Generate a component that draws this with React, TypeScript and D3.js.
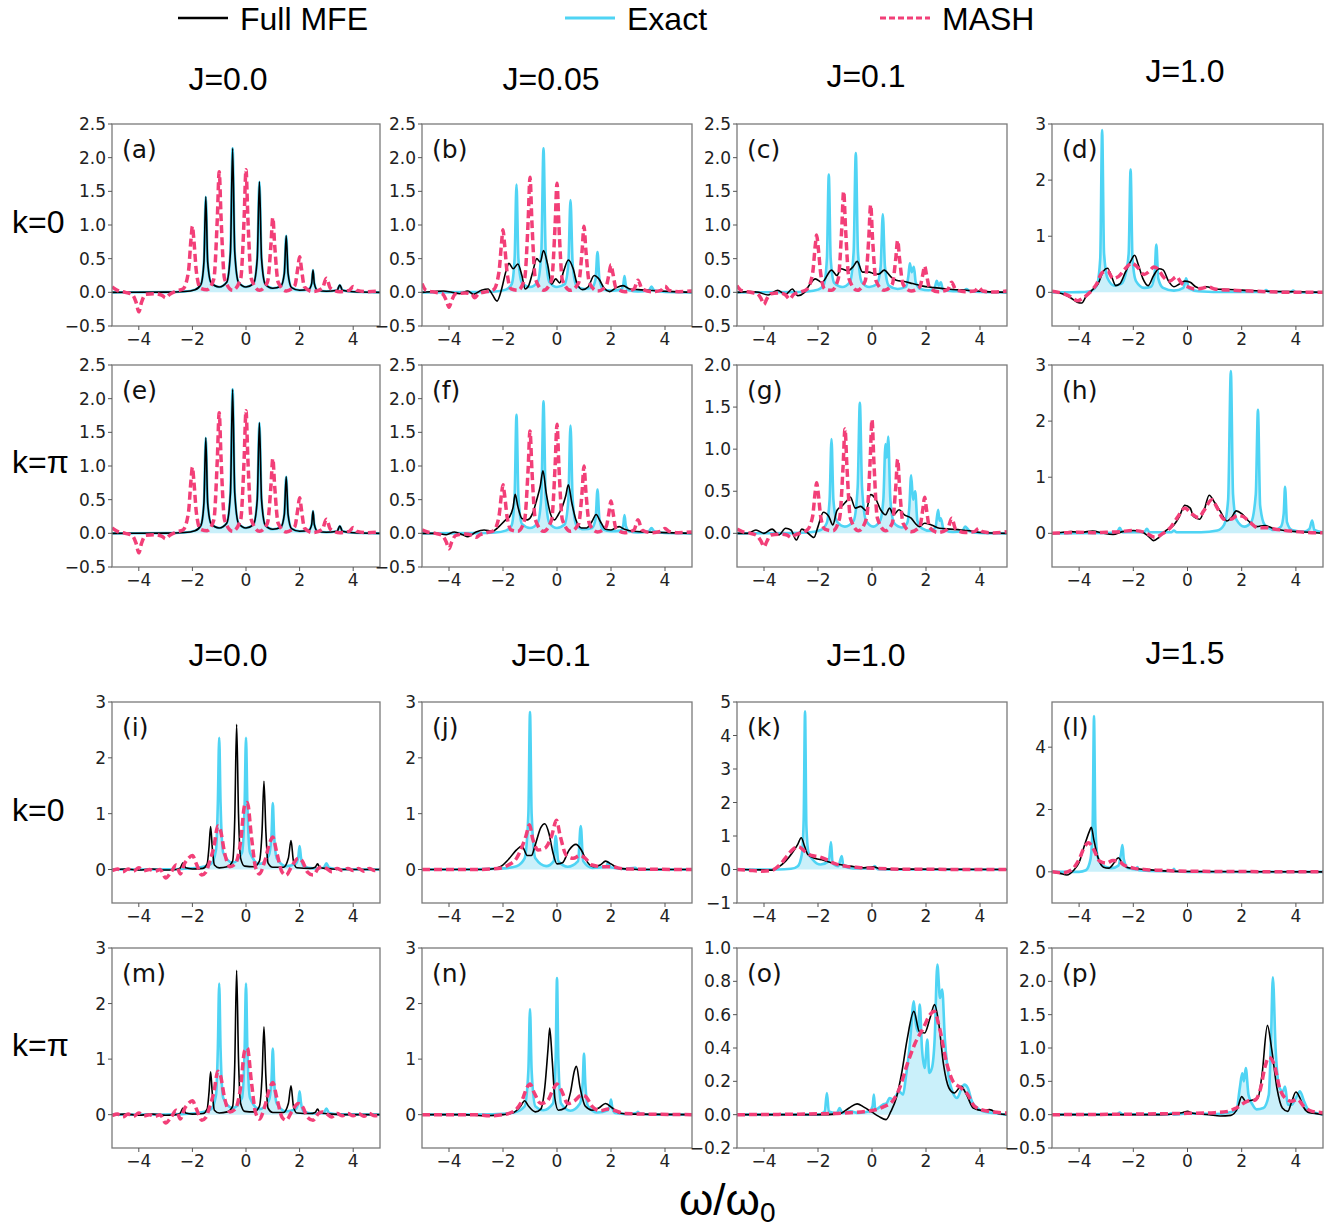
import React from 'react';
import * as d3 from 'd3';

type Pt = [number, number];

// ---------- data (ω/ω0, spectral value) ----------
const aExact: Pt[] = [[-5,0],[-3,0.003],[-2.3,0.012],[-1.9,0.04],[-1.68,0.12],[-1.57,0.45],[-1.5,1.42],[-1.43,0.45],[-1.3,0.14],[-1.0,0.08],[-0.72,0.15],[-0.58,0.6],[-0.5,2.14],[-0.42,0.6],[-0.28,0.15],[0,0.08],[0.28,0.13],[0.42,0.5],[0.5,1.64],[0.58,0.5],[0.72,0.12],[1.0,0.06],[1.3,0.09],[1.43,0.28],[1.5,0.84],[1.57,0.28],[1.7,0.07],[2.0,0.03],[2.35,0.05],[2.45,0.13],[2.5,0.33],[2.55,0.13],[2.67,0.03],[3.0,0.015],[3.4,0.03],[3.5,0.11],[3.6,0.03],[4,0.008],[5,0]];
const aMFE: Pt[] = aExact;
const aMASH: Pt[] = [[-5,0.08],[-4.8,0.03],[-4.5,0.0],[-4.25,-0.03],[-4.1,-0.15],[-4.0,-0.29],[-3.9,-0.15],[-3.75,-0.03],[-3.4,-0.02],[-3.15,-0.04],[-3.0,-0.08],[-2.85,-0.03],[-2.6,0.02],[-2.35,0.05],[-2.15,0.3],[-2.05,0.8],[-2.0,0.98],[-1.95,0.8],[-1.85,0.3],[-1.7,0.06],[-1.45,0.04],[-1.2,0.2],[-1.07,1.1],[-1.0,1.79],[-0.93,1.1],[-0.8,0.2],[-0.5,0.03],[-0.2,0.2],[-0.07,1.1],[0,1.82],[0.07,1.1],[0.2,0.2],[0.5,0.03],[0.8,0.15],[0.93,0.7],[1.0,1.11],[1.07,0.7],[1.2,0.15],[1.5,0.02],[1.82,0.1],[1.93,0.35],[2.0,0.53],[2.07,0.35],[2.18,0.08],[2.5,0.01],[2.85,0.06],[3.0,0.21],[3.15,0.06],[3.5,0.01],[3.85,0.03],[4.0,0.085],[4.15,0.03],[4.5,0.01],[5,0.02]];

const bExact: Pt[] = [[-5,0],[-3,0.003],[-2.3,0.012],[-1.9,0.04],[-1.68,0.12],[-1.57,0.5],[-1.5,1.6],[-1.43,0.5],[-1.3,0.14],[-1.0,0.08],[-0.72,0.15],[-0.58,0.6],[-0.5,2.14],[-0.42,0.6],[-0.28,0.15],[0,0.08],[0.28,0.12],[0.42,0.42],[0.5,1.37],[0.58,0.42],[0.72,0.1],[1.0,0.05],[1.3,0.07],[1.43,0.2],[1.5,0.6],[1.57,0.2],[1.7,0.05],[2.0,0.025],[2.35,0.04],[2.45,0.1],[2.5,0.24],[2.55,0.1],[2.67,0.03],[3.0,0.012],[3.4,0.03],[3.5,0.085],[3.6,0.03],[4,0.005],[5,0]];
const bMFE: Pt[] = [[-5,0],[-4.6,0.01],[-4.2,0.02],[-3.9,0.0],[-3.6,-0.02],[-3.3,0.02],[-3.1,-0.03],[-2.8,0.03],[-2.55,0.05],[-2.4,-0.03],[-2.22,-0.13],[-2.05,0.05],[-1.9,0.3],[-1.78,0.43],[-1.62,0.35],[-1.45,0.42],[-1.3,0.25],[-1.18,0.05],[-1.05,0.1],[-0.9,0.3],[-0.75,0.5],[-0.62,0.45],[-0.5,0.62],[-0.35,0.42],[-0.2,0.12],[-0.05,0.2],[0.1,0.14],[0.25,0.32],[0.42,0.48],[0.6,0.35],[0.75,0.12],[0.95,0.04],[1.15,0.08],[1.38,0.25],[1.55,0.2],[1.75,0.06],[1.95,0.01],[2.2,0.07],[2.45,0.1],[2.7,0.05],[3.0,0.04],[3.4,0.03],[3.8,0.02],[4.3,0.01],[5,0]];
const bMASH: Pt[] = [[-5,0.13],[-4.85,0.03],[-4.5,0.0],[-4.25,-0.02],[-4.1,-0.12],[-4.0,-0.22],[-3.9,-0.12],[-3.75,-0.02],[-3.4,-0.01],[-3.15,-0.03],[-3.05,-0.08],[-2.9,-0.02],[-2.6,0.01],[-2.35,0.04],[-2.15,0.3],[-2.05,0.75],[-2.0,0.93],[-1.95,0.75],[-1.85,0.3],[-1.7,0.05],[-1.45,0.03],[-1.2,0.2],[-1.07,1.05],[-1.0,1.71],[-0.93,1.05],[-0.8,0.2],[-0.5,0.03],[-0.2,0.18],[-0.07,1.0],[0,1.62],[0.07,1.0],[0.2,0.18],[0.5,0.03],[0.8,0.14],[0.93,0.62],[1.0,0.98],[1.07,0.62],[1.2,0.14],[1.5,0.02],[1.82,0.09],[1.93,0.28],[2.0,0.41],[2.07,0.28],[2.18,0.07],[2.5,0.01],[2.85,0.05],[3.0,0.18],[3.15,0.05],[3.5,0.01],[3.85,0.03],[4.0,0.09],[4.15,0.03],[4.5,0.01],[5,0.02]];

const cExact: Pt[] = [[-5,0],[-3,0.003],[-2.4,0.012],[-2.0,0.04],[-1.78,0.12],[-1.67,0.5],[-1.6,1.75],[-1.53,0.5],[-1.4,0.14],[-1.1,0.08],[-0.82,0.15],[-0.68,0.6],[-0.6,2.07],[-0.52,0.6],[-0.38,0.15],[-0.1,0.08],[0.18,0.12],[0.32,0.38],[0.4,1.16],[0.48,0.38],[0.62,0.1],[0.95,0.05],[1.25,0.08],[1.35,0.25],[1.4,0.43],[1.47,0.3],[1.55,0.38],[1.62,0.15],[1.8,0.05],[2.1,0.03],[2.32,0.07],[2.4,0.17],[2.47,0.1],[2.55,0.15],[2.62,0.05],[3.0,0.015],[3.4,0.02],[3.5,0.05],[3.6,0.02],[4,0.005],[5,0]];
const cMFE: Pt[] = [[-5,0],[-4.5,0.01],[-4.2,0.0],[-3.85,-0.04],[-3.5,0.03],[-3.2,-0.03],[-2.95,0.05],[-2.75,-0.05],[-2.5,0.0],[-2.3,0.12],[-2.1,0.2],[-1.85,0.15],[-1.5,0.33],[-1.3,0.25],[-1.15,0.35],[-0.9,0.32],[-0.7,0.38],[-0.55,0.46],[-0.35,0.3],[-0.1,0.3],[0.05,0.28],[0.25,0.27],[0.45,0.33],[0.7,0.23],[0.9,0.18],[1.2,0.16],[1.5,0.13],[1.8,0.1],[2.3,0.07],[2.8,0.05],[3.5,0.03],[4.2,0.01],[5,0]];
const cMASH: Pt[] = [[-5,0.1],[-4.85,0.03],[-4.5,0.0],[-4.25,-0.02],[-4.1,-0.1],[-4.0,-0.18],[-3.9,-0.1],[-3.75,-0.02],[-3.4,-0.01],[-3.2,-0.04],[-3.05,-0.1],[-2.9,-0.03],[-2.6,0.01],[-2.4,0.05],[-2.2,0.28],[-2.1,0.7],[-2.05,0.85],[-2.0,0.7],[-1.9,0.28],[-1.75,0.05],[-1.5,0.03],[-1.25,0.2],[-1.12,0.95],[-1.05,1.5],[-0.98,0.95],[-0.85,0.2],[-0.55,0.03],[-0.25,0.17],[-0.12,0.8],[-0.05,1.3],[0.02,0.8],[0.15,0.17],[0.45,0.03],[0.75,0.12],[0.88,0.5],[0.95,0.77],[1.02,0.5],[1.15,0.12],[1.45,0.02],[1.77,0.08],[1.88,0.26],[1.95,0.39],[2.02,0.26],[2.13,0.07],[2.45,0.01],[2.8,0.04],[2.95,0.15],[3.1,0.04],[3.45,0.01],[3.8,0.02],[3.95,0.07],[4.1,0.02],[4.5,0.005],[5,0.02]];

const dExact: Pt[] = [[-5,0],[-4,0.003],[-3.6,0.02],[-3.35,0.12],[-3.22,0.6],[-3.15,2.89],[-3.08,0.7],[-2.95,0.25],[-2.7,0.12],[-2.45,0.15],[-2.25,0.4],[-2.17,0.7],[-2.1,2.19],[-2.03,0.6],[-1.9,0.2],[-1.6,0.08],[-1.35,0.1],[-1.22,0.28],[-1.15,0.85],[-1.08,0.25],[-0.9,0.08],[-0.5,0.03],[-0.15,0.08],[-0.05,0.25],[0.05,0.07],[0.4,0.02],[1.5,0.005],[2.8,0.005],[2.9,0.04],[3.0,0.005],[3.8,0.005],[3.9,0.03],[4.0,0.0],[5,0]];
const dMFE: Pt[] = [[-5,0.02],[-4.6,-0.03],[-4.3,-0.1],[-4.05,-0.18],[-3.9,-0.19],[-3.75,-0.08],[-3.5,0.05],[-3.3,0.15],[-3.1,0.38],[-2.95,0.43],[-2.8,0.28],[-2.65,0.12],[-2.5,0.15],[-2.3,0.35],[-2.1,0.55],[-1.95,0.66],[-1.82,0.5],[-1.65,0.25],[-1.45,0.12],[-1.25,0.3],[-1.05,0.42],[-0.9,0.4],[-0.7,0.2],[-0.5,0.1],[-0.3,0.15],[-0.1,0.2],[0.1,0.18],[0.3,0.1],[0.5,0.07],[0.7,0.1],[1.0,0.06],[1.5,0.05],[2.0,0.04],[3.0,0.02],[4.0,0.01],[5,0]];
const dMASH: Pt[] = [[-5,0.02],[-4.6,-0.02],[-4.3,-0.08],[-4.05,-0.15],[-3.85,-0.1],[-3.6,0.0],[-3.35,0.15],[-3.15,0.35],[-2.95,0.38],[-2.75,0.25],[-2.55,0.28],[-2.3,0.42],[-2.05,0.52],[-1.85,0.45],[-1.6,0.32],[-1.4,0.38],[-1.25,0.45],[-1.1,0.42],[-0.9,0.28],[-0.65,0.2],[-0.4,0.28],[-0.25,0.18],[0.0,0.1],[0.3,0.06],[0.6,0.08],[0.75,0.1],[1.0,0.06],[1.5,0.04],[2.0,0.03],[3.0,0.01],[4.0,0.0],[5,0]];

const eExact: Pt[] = aExact;
const eMFE: Pt[] = aExact;
const eMASH: Pt[] = aMASH;

const fExact: Pt[] = [[-5,0],[-3,0.003],[-2.3,0.012],[-1.9,0.04],[-1.68,0.12],[-1.57,0.55],[-1.5,1.76],[-1.43,0.55],[-1.3,0.14],[-1.0,0.08],[-0.72,0.15],[-0.58,0.55],[-0.5,1.96],[-0.42,0.55],[-0.28,0.15],[0,0.08],[0.28,0.13],[0.42,0.5],[0.5,1.6],[0.58,0.5],[0.72,0.12],[1.0,0.06],[1.3,0.08],[1.43,0.22],[1.5,0.65],[1.57,0.22],[1.7,0.06],[2.0,0.03],[2.35,0.04],[2.45,0.11],[2.5,0.27],[2.55,0.11],[2.67,0.03],[3.0,0.012],[3.4,0.03],[3.5,0.08],[3.6,0.03],[4,0.005],[5,0]];
const fMFE: Pt[] = [[-5,0],[-4.5,0.0],[-4.1,-0.02],[-3.8,0.02],[-3.5,-0.02],[-3.3,-0.05],[-3.0,0.02],[-2.7,0.05],[-2.4,0.03],[-2.15,0.1],[-1.9,0.2],[-1.75,0.25],[-1.62,0.4],[-1.55,0.58],[-1.45,0.4],[-1.3,0.22],[-1.1,0.2],[-0.9,0.3],[-0.75,0.5],[-0.62,0.7],[-0.52,0.93],[-0.4,0.6],[-0.25,0.3],[-0.1,0.2],[0.05,0.28],[0.2,0.4],[0.32,0.55],[0.42,0.72],[0.55,0.45],[0.7,0.2],[0.9,0.08],[1.1,0.08],[1.3,0.18],[1.45,0.28],[1.6,0.18],[1.8,0.06],[2.0,0.05],[2.3,0.1],[2.5,0.06],[2.8,0.03],[3.3,0.02],[4.0,0.01],[5,0]];
const fMASH: Pt[] = [[-5,0.05],[-4.8,0.02],[-4.5,0.0],[-4.25,-0.03],[-4.1,-0.13],[-4.0,-0.23],[-3.9,-0.13],[-3.75,-0.03],[-3.4,-0.01],[-3.15,-0.03],[-3.0,-0.06],[-2.85,-0.02],[-2.6,0.01],[-2.35,0.04],[-2.15,0.25],[-2.05,0.6],[-2.0,0.72],[-1.95,0.6],[-1.85,0.25],[-1.7,0.05],[-1.45,0.03],[-1.2,0.2],[-1.07,0.95],[-1.0,1.52],[-0.93,0.95],[-0.8,0.2],[-0.5,0.03],[-0.2,0.2],[-0.07,1.0],[0,1.62],[0.07,1.0],[0.2,0.2],[0.5,0.03],[0.8,0.14],[0.93,0.62],[1.0,1.0],[1.07,0.62],[1.2,0.14],[1.5,0.02],[1.82,0.1],[1.93,0.32],[2.0,0.48],[2.07,0.32],[2.18,0.08],[2.5,0.01],[2.85,0.05],[3.0,0.2],[3.15,0.05],[3.5,0.01],[3.85,0.03],[4.0,0.07],[4.15,0.03],[4.5,0.01],[5,0.02]];

const gExact: Pt[] = [[-5,0],[-3,0.003],[-2.3,0.012],[-1.9,0.04],[-1.68,0.12],[-1.57,0.4],[-1.5,1.12],[-1.43,0.4],[-1.3,0.14],[-1.0,0.08],[-0.68,0.15],[-0.53,0.55],[-0.45,1.55],[-0.37,0.55],[-0.22,0.15],[0.05,0.08],[0.3,0.15],[0.42,0.4],[0.5,1.06],[0.55,0.9],[0.6,1.15],[0.68,0.4],[0.82,0.12],[1.1,0.07],[1.3,0.12],[1.38,0.3],[1.45,0.69],[1.52,0.4],[1.6,0.5],[1.68,0.15],[1.85,0.06],[2.15,0.03],[2.35,0.07],[2.45,0.28],[2.5,0.15],[2.55,0.18],[2.65,0.05],[3.0,0.015],[3.35,0.03],[3.45,0.08],[3.55,0.05],[3.65,0.02],[4,0.005],[5,0]];
const gMFE: Pt[] = [[-5,0],[-4.6,0.0],[-4.3,0.04],[-4.0,0.0],[-3.7,0.05],[-3.45,-0.02],[-3.2,0.06],[-3.0,0.04],[-2.8,-0.08],[-2.6,0.05],[-2.4,0.01],[-2.15,-0.05],[-2.0,0.08],[-1.8,0.25],[-1.6,0.2],[-1.45,0.1],[-1.3,0.27],[-1.1,0.33],[-0.95,0.38],[-0.8,0.43],[-0.62,0.3],[-0.42,0.32],[-0.22,0.27],[-0.05,0.46],[0.15,0.4],[0.32,0.28],[0.5,0.22],[0.65,0.3],[0.8,0.22],[1.0,0.28],[1.2,0.22],[1.45,0.18],[1.6,0.12],[1.75,0.08],[1.95,0.12],[2.2,0.1],[2.5,0.06],[2.9,0.05],[3.3,0.04],[3.6,0.03],[4.0,0.01],[5,0]];
const gMASH: Pt[] = [[-5,0.05],[-4.8,0.02],[-4.5,0.0],[-4.25,-0.03],[-4.1,-0.1],[-4.0,-0.16],[-3.9,-0.1],[-3.75,-0.02],[-3.4,-0.01],[-3.15,-0.02],[-3.0,-0.05],[-2.85,-0.02],[-2.6,0.01],[-2.4,0.04],[-2.2,0.2],[-2.1,0.5],[-2.05,0.6],[-2.0,0.5],[-1.9,0.2],[-1.75,0.05],[-1.45,0.03],[-1.2,0.18],[-1.07,0.8],[-1.0,1.24],[-0.93,0.8],[-0.8,0.18],[-0.5,0.03],[-0.2,0.18],[-0.07,0.85],[0,1.35],[0.07,0.85],[0.2,0.18],[0.5,0.03],[0.75,0.12],[0.88,0.55],[0.95,0.88],[1.02,0.55],[1.15,0.12],[1.45,0.02],[1.77,0.08],[1.88,0.28],[1.95,0.43],[2.02,0.28],[2.13,0.07],[2.45,0.01],[2.8,0.05],[2.95,0.18],[3.1,0.05],[3.45,0.01],[3.8,0.02],[3.95,0.06],[4.1,0.02],[4.5,0.005],[5,0.02]];

const hExact: Pt[] = [[-5,0],[-3,0.005],[-2.6,0.02],[-2.5,0.1],[-2.4,0.02],[-1.6,0.02],[-1.5,0.08],[-1.4,0.02],[-0.6,0.02],[-0.5,0.05],[-0.4,0.02],[0.5,0.02],[1.1,0.05],[1.35,0.15],[1.5,0.6],[1.6,2.89],[1.68,0.7],[1.8,0.25],[2.1,0.12],[2.35,0.2],[2.52,0.7],[2.6,2.2],[2.68,0.5],[2.85,0.15],[3.2,0.06],[3.45,0.12],[3.55,0.35],[3.6,0.83],[3.67,0.2],[3.85,0.06],[4.3,0.03],[4.5,0.08],[4.6,0.23],[4.68,0.06],[5,0.02]];
const hMFE: Pt[] = [[-5,0],[-4.6,0.02],[-4.3,0.03],[-3.9,0.02],[-3.5,0.04],[-3.1,0.0],[-2.75,-0.02],[-2.4,0.03],[-2.0,0.05],[-1.7,0.03],[-1.45,-0.05],[-1.25,-0.13],[-1.05,-0.07],[-0.8,0.05],[-0.5,0.15],[-0.3,0.3],[-0.1,0.5],[0.1,0.45],[0.22,0.3],[0.45,0.25],[0.62,0.42],[0.8,0.68],[1.0,0.55],[1.2,0.4],[1.45,0.22],[1.62,0.28],[1.8,0.4],[2.0,0.35],[2.25,0.22],[2.55,0.12],[2.85,0.14],[3.2,0.08],[3.6,0.05],[4.0,0.03],[4.5,0.02],[5,0]];
const hMASH: Pt[] = [[-5,0.0],[-4.5,0.01],[-4.0,0.02],[-3.5,0.01],[-3.0,0.02],[-2.5,0.03],[-2.0,0.05],[-1.6,0.02],[-1.2,-0.07],[-0.9,0.0],[-0.6,0.12],[-0.35,0.3],[-0.1,0.45],[0.15,0.35],[0.4,0.28],[0.6,0.4],[0.9,0.6],[1.1,0.45],[1.35,0.25],[1.6,0.25],[1.85,0.32],[2.05,0.3],[2.3,0.2],[2.6,0.1],[2.9,0.1],[3.3,0.07],[3.8,0.04],[4.3,0.02],[5,0.01]];

const iExact: Pt[] = [[-5,0],[-3,0.003],[-2.4,0.01],[-1.8,0.03],[-1.3,0.1],[-1.12,0.35],[-1.05,1.2],[-1.0,2.36],[-0.95,1.2],[-0.85,0.3],[-0.5,0.12],[-0.15,0.3],[-0.05,1.2],[0,2.36],[0.05,1.2],[0.15,0.3],[0.5,0.1],[0.85,0.25],[0.95,0.6],[1.0,1.19],[1.05,0.6],[1.15,0.2],[1.5,0.06],[1.85,0.1],[1.95,0.22],[2.0,0.42],[2.05,0.22],[2.15,0.06],[2.5,0.02],[2.9,0.03],[3.0,0.11],[3.1,0.03],[3.5,0.005],[5,0]];
const iMFE: Pt[] = [[-5,0],[-4.5,0.01],[-4.0,-0.01],[-3.5,0.01],[-3.0,-0.01],[-2.6,0.0],[-2.45,0.03],[-2.35,0.12],[-2.25,0.03],[-2.0,0.01],[-1.6,0.02],[-1.45,0.1],[-1.38,0.4],[-1.32,0.77],[-1.26,0.4],[-1.18,0.08],[-1.0,0.03],[-0.7,0.05],[-0.5,0.15],[-0.42,0.9],[-0.35,2.6],[-0.28,1.0],[-0.2,0.2],[-0.05,0.06],[0.3,0.05],[0.5,0.15],[0.6,0.7],[0.67,1.58],[0.74,0.7],[0.82,0.12],[1.0,0.04],[1.4,0.04],[1.58,0.2],[1.68,0.52],[1.77,0.15],[1.9,0.03],[2.4,0.02],[2.58,0.04],[2.67,0.1],[2.76,0.03],[3.2,0.01],[4,0.0],[5,0]];
const iMASH: Pt[] = [[-5,-0.02],[-4.8,0.01],[-4.6,-0.04],[-4.4,0.01],[-4.2,-0.03],[-4.0,0.03],[-3.8,-0.02],[-3.6,0.0],[-3.4,-0.03],[-3.2,0.0],[-3.0,-0.15],[-2.8,-0.05],[-2.6,0.08],[-2.45,-0.08],[-2.3,0.1],[-2.15,0.2],[-2.0,0.25],[-1.85,0.1],[-1.65,-0.1],[-1.5,-0.05],[-1.35,0.15],[-1.2,0.4],[-1.05,0.78],[-0.95,0.7],[-0.8,0.3],[-0.6,0.05],[-0.4,0.1],[-0.2,0.5],[-0.05,1.15],[0.05,1.2],[0.2,0.6],[0.35,0.05],[0.5,-0.08],[0.7,0.15],[0.9,0.5],[1.0,0.58],[1.15,0.3],[1.35,-0.05],[1.5,-0.1],[1.7,0.05],[1.95,0.2],[2.1,0.15],[2.3,-0.05],[2.5,-0.1],[2.7,0.02],[2.85,0.05],[3.0,0.02],[3.2,-0.04],[3.4,0.02],[3.6,-0.02],[3.8,0.02],[4.0,-0.02],[4.2,0.02],[4.4,-0.03],[4.6,0.02],[4.8,-0.02],[5,0.0]];

const jExact: Pt[] = [[-5,0],[-3,0.005],[-2,0.02],[-1.5,0.06],[-1.2,0.2],[-1.06,1.0],[-1.0,2.82],[-0.94,1.0],[-0.8,0.2],[-0.4,0.06],[-0.12,0.15],[-0.05,0.6],[0.05,0.15],[0.4,0.05],[0.78,0.15],[0.88,0.78],[0.97,0.15],[1.3,0.03],[1.82,0.05],[1.9,0.13],[1.98,0.04],[2.5,0.01],[2.9,0.03],[3.0,0.0],[5,0]];
const jMFE: Pt[] = [[-5,0],[-3,0.0],[-2.5,0.005],[-2.1,0.05],[-1.8,0.18],[-1.5,0.35],[-1.3,0.42],[-1.1,0.25],[-0.95,0.25],[-0.8,0.45],[-0.6,0.75],[-0.45,0.82],[-0.3,0.65],[-0.15,0.3],[0.0,0.1],[0.2,0.12],[0.45,0.35],[0.7,0.45],[0.9,0.35],[1.1,0.15],[1.35,0.05],[1.6,0.08],[1.8,0.15],[2.0,0.1],[2.3,0.02],[3,0.0],[5,0]];
const jMASH: Pt[] = [[-5,0],[-3,0.0],[-2.2,0.02],[-1.8,0.08],[-1.5,0.2],[-1.3,0.4],[-1.15,0.6],[-1.02,0.8],[-0.9,0.55],[-0.7,0.35],[-0.45,0.38],[-0.2,0.6],[-0.02,0.88],[0.12,0.6],[0.35,0.25],[0.6,0.2],[0.85,0.25],[1.05,0.2],[1.3,0.08],[1.7,0.05],[2.0,0.05],[2.5,0.01],[5,0]];

const kExact: Pt[] = [[-5,0],[-3.5,0.0],[-3.0,0.02],[-2.75,0.1],[-2.6,0.45],[-2.53,1.5],[-2.48,4.72],[-2.43,1.3],[-2.35,0.5],[-2.2,0.3],[-1.9,0.15],[-1.6,0.25],[-1.52,0.82],[-1.46,0.2],[-1.25,0.1],[-1.12,0.4],[-1.06,0.1],[-0.7,0.03],[0.0,0.03],[0.1,0.1],[0.2,0.01],[1,0],[5,0]];
const kMFE: Pt[] = [[-5,0],[-4,-0.01],[-3.7,-0.02],[-3.45,0.08],[-3.2,0.25],[-2.95,0.5],[-2.75,0.75],[-2.62,0.95],[-2.5,0.7],[-2.38,0.45],[-2.1,0.33],[-1.8,0.28],[-1.5,0.2],[-1.2,0.15],[-0.8,0.1],[-0.3,0.05],[0.05,0.08],[0.3,0.02],[1,0.01],[5,0]];
const kMASH: Pt[] = [[-5,0],[-4.6,-0.02],[-4.1,-0.05],[-3.7,-0.02],[-3.4,0.15],[-3.15,0.4],[-2.9,0.62],[-2.72,0.68],[-2.5,0.55],[-2.25,0.42],[-1.95,0.38],[-1.7,0.3],[-1.4,0.18],[-1.0,0.1],[-0.5,0.06],[0.0,0.04],[1,0.01],[5,0]];

const lExact: Pt[] = [[-5,0],[-4,0.0],[-3.75,0.05],[-3.58,0.4],[-3.5,1.5],[-3.45,5.0],[-3.4,1.5],[-3.32,0.5],[-3.1,0.18],[-2.8,0.12],[-2.55,0.2],[-2.45,0.6],[-2.4,0.86],[-2.35,0.4],[-2.2,0.12],[-1.9,0.08],[-1.85,0.15],[-1.8,0.05],[-1.0,0.02],[-0.55,0.03],[-0.5,0.1],[-0.45,0.02],[0,0.0],[5,0]];
const lMFE: Pt[] = [[-5,0],[-4.7,-0.05],[-4.45,-0.1],[-4.2,0.05],[-4.0,0.3],[-3.8,0.85],[-3.62,1.3],[-3.55,1.43],[-3.45,1.0],[-3.3,0.45],[-3.1,0.15],[-2.9,0.12],[-2.7,0.3],[-2.55,0.45],[-2.42,0.3],[-2.25,0.15],[-1.9,0.1],[-1.5,0.07],[-1.0,0.04],[0,0.01],[5,0]];
const lMASH: Pt[] = [[-5,0],[-4.6,-0.03],[-4.3,0.05],[-4.0,0.4],[-3.8,0.8],[-3.65,0.93],[-3.45,0.7],[-3.25,0.35],[-3.0,0.28],[-2.75,0.36],[-2.55,0.35],[-2.35,0.22],[-2.0,0.12],[-1.5,0.07],[-1.0,0.05],[0,0.02],[5,0]];

const mExact: Pt[] = iExact;
const mMFE: Pt[] = iMFE;
const mMASH: Pt[] = iMASH;

const nExact: Pt[] = [[-5,0],[-3,0.003],[-2.2,0.01],[-1.6,0.04],[-1.2,0.15],[-1.06,0.8],[-1.0,1.9],[-0.94,0.8],[-0.8,0.15],[-0.5,0.08],[-0.15,0.2],[-0.05,1.0],[0,2.46],[0.05,1.0],[0.15,0.2],[0.5,0.07],[0.85,0.2],[0.95,0.55],[1.0,1.1],[1.05,0.55],[1.15,0.15],[1.5,0.04],[1.88,0.08],[1.96,0.18],[2.0,0.27],[2.05,0.12],[2.15,0.03],[2.6,0.01],[2.95,0.03],[3.0,0.05],[3.05,0.02],[3.5,0.0],[5,0]];
const nMFE: Pt[] = [[-5,0],[-3.5,0.0],[-2.6,-0.02],[-2.0,0.0],[-1.6,0.04],[-1.35,0.15],[-1.2,0.25],[-1.05,0.15],[-0.8,0.05],[-0.6,0.1],[-0.45,0.5],[-0.33,1.2],[-0.27,1.56],[-0.18,1.0],[-0.08,0.3],[0.05,0.08],[0.3,0.12],[0.5,0.4],[0.65,0.8],[0.72,0.87],[0.85,0.5],[1.05,0.15],[1.3,0.08],[1.55,0.12],[1.8,0.2],[2.05,0.12],[2.3,0.03],[2.7,0.01],[5,0]];
const nMASH: Pt[] = [[-5,0],[-3,0.0],[-2.5,-0.02],[-2.0,0.0],[-1.6,0.06],[-1.3,0.25],[-1.1,0.5],[-1.0,0.55],[-0.85,0.4],[-0.6,0.2],[-0.35,0.25],[-0.15,0.45],[0.0,0.55],[0.15,0.45],[0.4,0.2],[0.65,0.25],[0.9,0.35],[1.05,0.33],[1.3,0.15],[1.6,0.07],[1.9,0.1],[2.1,0.08],[2.5,0.02],[5,0]];

const oExact: Pt[] = [[-5,0],[-2.0,0.0],[-1.75,0.02],[-1.67,0.13],[-1.6,0.02],[-1.3,0.01],[-1.2,0.04],[-1.1,0.01],[-0.8,0.02],[-0.5,0.01],[-0.1,0.02],[0.02,0.05],[0.07,0.12],[0.12,0.03],[0.4,0.06],[0.55,0.07],[0.65,0.1],[0.8,0.09],[1.0,0.14],[1.15,0.12],[1.25,0.22],[1.4,0.42],[1.55,0.68],[1.62,0.55],[1.7,0.5],[1.77,0.66],[1.85,0.4],[1.95,0.28],[2.05,0.45],[2.12,0.25],[2.22,0.28],[2.32,0.45],[2.42,0.9],[2.52,0.7],[2.6,0.75],[2.7,0.45],[2.85,0.22],[3.0,0.13],[3.15,0.1],[3.3,0.15],[3.42,0.18],[3.55,0.16],[3.7,0.08],[3.9,0.04],[4.1,0.02],[4.5,0.01],[5,0]];
const oMFE: Pt[] = [[-5,0],[-2,0.0],[-1.2,0.005],[-0.85,0.04],[-0.55,0.065],[-0.3,0.045],[0.0,0.015],[0.25,-0.01],[0.52,-0.03],[0.7,0.02],[0.9,0.1],[1.1,0.25],[1.3,0.45],[1.55,0.62],[1.75,0.5],[1.95,0.49],[2.15,0.58],[2.32,0.66],[2.47,0.55],[2.65,0.3],[2.85,0.16],[3.05,0.13],[3.3,0.17],[3.5,0.12],[3.75,0.04],[4.1,0.025],[4.35,0.03],[4.7,0.005],[5,0]];
const oMASH: Pt[] = [[-5,0],[-2,0.005],[-1,0.01],[0,0.025],[0.4,0.045],[0.8,0.09],[1.0,0.15],[1.3,0.3],[1.6,0.43],[1.9,0.52],[2.15,0.6],[2.3,0.62],[2.5,0.52],[2.75,0.32],[3.0,0.2],[3.3,0.16],[3.55,0.12],[3.8,0.05],[4.3,0.02],[5,0.01]];

const pExact: Pt[] = [[-5,0],[-2.6,0.005],[-2.5,0.03],[-2.4,0.005],[-0.7,0.005],[-0.6,0.02],[-0.5,0.0],[0,0.02],[1.0,0.01],[1.5,0.03],[1.8,0.06],[1.93,0.4],[2.02,0.62],[2.08,0.5],[2.15,0.7],[2.25,0.3],[2.4,0.15],[2.55,0.08],[2.8,0.1],[3.0,0.3],[3.08,1.1],[3.15,2.06],[3.25,1.0],[3.4,0.4],[3.52,0.35],[3.6,0.42],[3.7,0.15],[3.85,0.15],[4.0,0.25],[4.15,0.35],[4.3,0.2],[4.5,0.05],[4.7,0.03],[5,0]];
const pMFE: Pt[] = [[-5,0],[-1,0.0],[-0.2,0.03],[0,0.05],[0.2,0.02],[0.8,0.0],[1.2,-0.02],[1.6,-0.01],[1.85,0.1],[2.0,0.27],[2.15,0.2],[2.4,0.22],[2.6,0.25],[2.75,0.6],[2.95,1.34],[3.1,1.0],[3.3,0.4],[3.5,0.1],[3.7,0.05],[3.85,0.2],[4.0,0.34],[4.15,0.25],[4.3,0.1],[4.5,0.03],[4.7,0.02],[5,0]];
const pMASH: Pt[] = [[-5,0],[0,0.02],[1.0,0.03],[1.5,0.05],[1.8,0.1],[2.2,0.2],[2.5,0.22],[2.7,0.4],[2.85,0.7],[3.0,0.86],[3.2,0.75],[3.4,0.4],[3.6,0.25],[3.85,0.2],[4.05,0.23],[4.3,0.12],[4.6,0.05],[5,0.03]];

// ---------- labels / ticks ----------
const xTicks = [-4, -2, 0, 2, 4];
const topTitles = ['J=0.0', 'J=0.05', 'J=0.1', 'J=1.0'];
const bottomTitles = ['J=0.0', 'J=0.1', 'J=1.0', 'J=1.5'];
const rowLabels = ['k=0', 'k=π', 'k=0', 'k=π'];
const legendNames = ['Full MFE', 'Exact', 'MASH'];

const ticksHalf = [-0.5, 0, 0.5, 1, 1.5, 2, 2.5];
const ticks03 = [0, 1, 2, 3];

// ---------- layout ----------
const colX = [[112, 380], [422, 692], [737, 1007], [1052, 1323]];
const rowY = [[124, 326], [365, 567], [702, 903], [948, 1148]];

const COLORS = { mfe: '#000000', exact: '#4fd4f4', fill: '#c4eefa', mash: '#f23f78' };

interface PanelDef {
  tag: string; row: number; col: number;
  yDomain: [number, number]; yTicks: number[]; dec: number;
  exact: Pt[]; mfe: Pt[]; mash: Pt[];
}

const panels: PanelDef[] = [
  { tag: 'a', row: 0, col: 0, yDomain: [-0.5, 2.5], yTicks: ticksHalf, dec: 1, exact: aExact, mfe: aMFE, mash: aMASH },
  { tag: 'b', row: 0, col: 1, yDomain: [-0.5, 2.5], yTicks: ticksHalf, dec: 1, exact: bExact, mfe: bMFE, mash: bMASH },
  { tag: 'c', row: 0, col: 2, yDomain: [-0.5, 2.5], yTicks: ticksHalf, dec: 1, exact: cExact, mfe: cMFE, mash: cMASH },
  { tag: 'd', row: 0, col: 3, yDomain: [-0.6, 3], yTicks: ticks03, dec: 0, exact: dExact, mfe: dMFE, mash: dMASH },
  { tag: 'e', row: 1, col: 0, yDomain: [-0.5, 2.5], yTicks: ticksHalf, dec: 1, exact: eExact, mfe: eMFE, mash: eMASH },
  { tag: 'f', row: 1, col: 1, yDomain: [-0.5, 2.5], yTicks: ticksHalf, dec: 1, exact: fExact, mfe: fMFE, mash: fMASH },
  { tag: 'g', row: 1, col: 2, yDomain: [-0.4, 2.0], yTicks: [0, 0.5, 1, 1.5, 2], dec: 1, exact: gExact, mfe: gMFE, mash: gMASH },
  { tag: 'h', row: 1, col: 3, yDomain: [-0.6, 3], yTicks: ticks03, dec: 0, exact: hExact, mfe: hMFE, mash: hMASH },
  { tag: 'i', row: 2, col: 0, yDomain: [-0.6, 3], yTicks: ticks03, dec: 0, exact: iExact, mfe: iMFE, mash: iMASH },
  { tag: 'j', row: 2, col: 1, yDomain: [-0.6, 3], yTicks: ticks03, dec: 0, exact: jExact, mfe: jMFE, mash: jMASH },
  { tag: 'k', row: 2, col: 2, yDomain: [-1, 5], yTicks: [-1, 0, 1, 2, 3, 4, 5], dec: 0, exact: kExact, mfe: kMFE, mash: kMASH },
  { tag: 'l', row: 2, col: 3, yDomain: [-1, 5.45], yTicks: [0, 2, 4], dec: 0, exact: lExact, mfe: lMFE, mash: lMASH },
  { tag: 'm', row: 3, col: 0, yDomain: [-0.6, 3], yTicks: ticks03, dec: 0, exact: mExact, mfe: mMFE, mash: mMASH },
  { tag: 'n', row: 3, col: 1, yDomain: [-0.6, 3], yTicks: ticks03, dec: 0, exact: nExact, mfe: nMFE, mash: nMASH },
  { tag: 'o', row: 3, col: 2, yDomain: [-0.2, 1.0], yTicks: [-0.2, 0, 0.2, 0.4, 0.6, 0.8, 1.0], dec: 1, exact: oExact, mfe: oMFE, mash: oMASH },
  { tag: 'p', row: 3, col: 3, yDomain: [-0.5, 2.5], yTicks: ticksHalf, dec: 1, exact: pExact, mfe: pMFE, mash: pMASH },
];

const fmt = (v: number, dec: number) => {
  const s = Math.abs(v).toFixed(dec);
  return (v < 0 ? '\u2212' : '') + s;
};

const TICK_FONT = 'DejaVu Sans, sans-serif';
const TEXT_FONT = 'Liberation Sans, Arial, sans-serif';

function Panel({ p }: { p: PanelDef }) {
  const [x0, x1] = colX[p.col];
  const [y0, y1] = rowY[p.row];
  const x = d3.scaleLinear().domain([-5, 5]).range([x0, x1]);
  const y = d3.scaleLinear().domain(p.yDomain).range([y1, y0]);
  const line = d3.line<Pt>().x(d => x(d[0])).y(d => y(d[1])).curve(d3.curveMonotoneX);
  const area = d3.area<Pt>().x(d => x(d[0])).y0(y(0)).y1(d => y(d[1])).curve(d3.curveMonotoneX);
  const clipId = `clip-${p.tag}`;
  return (
    <g>
      <defs>
        <clipPath id={clipId}>
          <rect x={x0} y={y0} width={x1 - x0} height={y1 - y0} />
        </clipPath>
      </defs>
      <g clipPath={`url(#${clipId})`}>
        <path d={area(p.exact) || ''} fill={COLORS.fill} opacity={0.9} />
        <path d={line(p.exact) || ''} fill="none" stroke={COLORS.exact} strokeWidth={2.6} strokeLinejoin="round" />
        <path d={line(p.mfe) || ''} fill="none" stroke={COLORS.mfe} strokeWidth={1.6} strokeLinejoin="round" />
        <path d={line(p.mash) || ''} fill="none" stroke={COLORS.mash} strokeWidth={3.5} strokeDasharray="8,4" />
      </g>
      <rect x={x0} y={y0} width={x1 - x0} height={y1 - y0} fill="none" stroke="#7a7a7a" strokeWidth={1.3} />
      {xTicks.map(t => (
        <g key={'x' + t}>
          <line x1={x(t)} x2={x(t)} y1={y1} y2={y1 + 4} stroke="#555" strokeWidth={1} />
          <text x={x(t)} y={y1 + 19} textAnchor="middle" fontFamily={TICK_FONT} fontSize={17} fill="#222">{fmt(t, 0)}</text>
        </g>
      ))}
      {p.yTicks.map(t => (
        <g key={'y' + t}>
          <line x1={x0 - 4} x2={x0} y1={y(t)} y2={y(t)} stroke="#555" strokeWidth={1} />
          <text x={x0 - 6} y={y(t) + 6} textAnchor="end" fontFamily={TICK_FONT} fontSize={17} fill="#222">{fmt(t, p.dec)}</text>
        </g>
      ))}
      <text x={x0 + 10} y={y0 + 34} fontFamily={TICK_FONT} fontSize={25} fill="#111">({p.tag})</text>
    </g>
  );
}

export default function App() {
  const topTitleY = [90, 90, 87, 82];
  const botTitleY = [666, 666, 666, 664];
  const titleX = [228, 551, 866, 1185];
  const rowLabelY = [233, 473, 821, 1056];
  const legendX = [178, 565, 880];
  return (
    <svg width={1330} height={1231} viewBox="0 0 1330 1231"
      style={{ position: 'absolute', left: 0, top: 0, background: '#fff' }}>
      <rect x={0} y={0} width={1330} height={1231} fill="#fff" />
      {legendNames.map((name, i) => (
        <g key={name}>
          <line x1={legendX[i]} x2={legendX[i] + 50} y1={18} y2={18}
            stroke={i === 0 ? COLORS.mfe : i === 1 ? COLORS.exact : COLORS.mash}
            strokeWidth={i === 0 ? 2.4 : 3}
            strokeDasharray={i === 2 ? '6,3' : undefined} />
          <text x={legendX[i] + 62} y={30} fontFamily={TEXT_FONT} fontSize={32} fill="#000">{name}</text>
        </g>
      ))}
      {topTitles.map((t, i) => (
        <text key={'tt' + i} x={titleX[i]} y={topTitleY[i]} textAnchor="middle" fontFamily={TEXT_FONT} fontSize={32}>{t}</text>
      ))}
      {bottomTitles.map((t, i) => (
        <text key={'bt' + i} x={titleX[i]} y={botTitleY[i]} textAnchor="middle" fontFamily={TEXT_FONT} fontSize={32}>{t}</text>
      ))}
      {rowLabels.map((t, i) => (
        <text key={'rl' + i} x={12} y={rowLabelY[i]} fontFamily={TEXT_FONT} fontSize={32}>{t}</text>
      ))}
      {panels.map(p => <Panel key={p.tag} p={p} />)}
      <text x={679} y={1215} fontFamily={TEXT_FONT} fontSize={44}>
        ω/ω<tspan fontSize={28} dy={7}>0</tspan>
      </text>
    </svg>
  );
}
